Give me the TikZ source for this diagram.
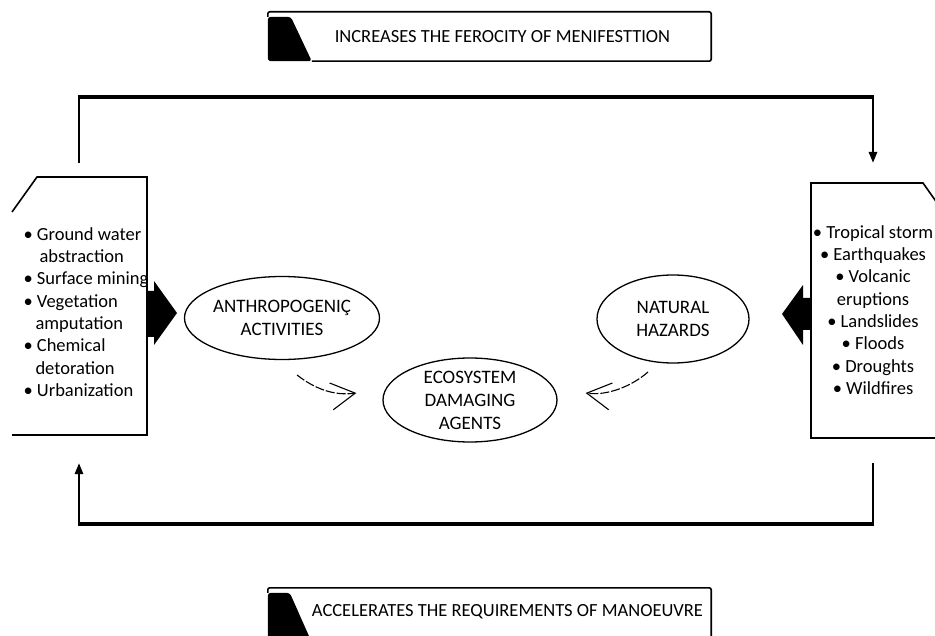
\documentclass[tikz,border=0pt]{standalone}
\usepackage{fontspec}
\setmainfont{Carlito}
\usetikzlibrary{arrows.meta, positioning, shapes.geometric}

\begin{document}
\begin{tikzpicture}[
  x=1pt, y=-1pt,
  font=\fontsize{18.5}{22.3}\selectfont,
  bubble/.style={draw, ellipse, line width=1.3pt, inner sep=0pt, align=center,
                 font=\fontsize{19}{23}\selectfont},
  banner/.style={minimum width=443pt, minimum height=49pt, inner sep=0pt},
  frame/.style={line width=1.6pt},
  tab/.style={fill=black, rounded corners=3pt},
  feed/.style={line width=2.6pt},
  feedbar/.style={line width=4.8pt},
  tip/.style={-{Triangle[length=11pt, width=8pt]}},
  block/.style={fill=black},
  curvy/.style={line width=1.1pt, dash pattern=on 9pt off 2pt,
                -{Straight Barb[length=24pt, width=27pt]}}
]
\useasboundingbox (0,0) rectangle (935,636);

% banners
\node[banner] (inc) at (489.5,36.5) {\hspace*{26pt}INCREASES THE FEROCITY OF MENIFESTTION};
\draw[frame, rounded corners=2pt] ([yshift=-5pt]inc.north west) -- (inc.north west) -- (inc.north east)
  -- (inc.south east) -- ([xshift=44pt]inc.south west);
\fill[tab] ([yshift=-5pt]inc.north west) -- ([xshift=23pt,yshift=-5pt]inc.north west)
  -- ([xshift=44pt]inc.south west) -- (inc.south west) -- cycle;

\node[banner, minimum height=48pt] (acc) at (489.5,612) {\hspace*{36pt}ACCELERATES THE REQUIREMENTS OF MANOEUVRE};
\draw[frame, rounded corners=2pt] ([yshift=-5pt]acc.north west) -- (acc.north west) -- (acc.north east)
  -- ([yshift=-4pt]acc.south east);
\fill[tab] ([yshift=-5pt]acc.north west) -- ([xshift=22pt,yshift=-5pt]acc.north west)
  -- ([xshift=43pt,yshift=-4pt]acc.south west) -- ([yshift=-4pt]acc.south west) -- cycle;

% side lists
\node[align=left, anchor=west] (human) at (20,312) {%
  • Ground water\\\hspace*{16pt}abstraction\\• Surface mining\\• Vegetation\\
  \hspace*{12pt}amputation\\• Chemical\\\hspace*{12pt}detoration\\• Urbanization};
\draw[frame] (12,212) -- (37,177) -- (147,177) -- (147,435) -- (12,435);

\node[align=center] (nature) at (873,310) {%
  • Tropical storm\\• Earthquakes\\• Volcanic\\eruptions\\• Landslides\\• Floods\\• Droughts\\• Wildfires};
\draw[frame] (947,217) -- (923,183) -- (811,183) -- (811,438) -- (940,438);

% block arrows
\fill[block] (147,291) -- (154,291) -- (154,281) -- (177,313) -- (154,345) -- (154,337) -- (147,337) -- cycle;
\fill[block] (811,298) -- (803,298) -- (803,285) -- (782,314) -- (803,345) -- (803,330) -- (811,330) -- cycle;

% ellipses
\node[bubble, minimum width=178pt, minimum height=83pt] (anth) at (282,318) {ANTHROPOGENIÇ\\ACTIVITIES};
\node[bubble, minimum width=174pt, minimum height=84pt] (eco) at (470,400) {ECOSYSTEM\\DAMAGING\\AGENTS};
\node[bubble, minimum width=152pt, minimum height=88pt] (nat) at (673,319) {NATURAL\\HAZARDS};

\draw[curvy] ([shift={(15,57)}]anth.center) .. controls +(18,14) and +(-22,3) .. ([shift={(-26,-7)}]eco.west);
\draw[curvy] ([shift={(-25,53)}]nat.center) .. controls +(-16,14) and +(22,3) .. ([shift={(28,-7)}]eco.east);

% feedback loop
\coordinate (ltop) at (79,163);
\coordinate (tl) at (79,97);
\coordinate (tr) at (873,97);
\coordinate (rtop) at (873,163);
\coordinate (rbot) at (873,463);
\coordinate (br) at (873,524);
\coordinate (bl) at (79,524);
\coordinate (lbot) at (79,463);
\draw[feed] (ltop) -- (tl);
\draw[feedbar] ([xshift=-1.3pt]tl) -- ([xshift=1.3pt]tr);
\draw[feed, tip] (tr) -- (rtop);
\draw[feed] (rbot) -- (br);
\draw[feedbar] ([xshift=1.3pt]br) -- ([xshift=-1.3pt]bl);
\draw[feed, tip] (bl) -- (lbot);
\end{tikzpicture}
\end{document}
